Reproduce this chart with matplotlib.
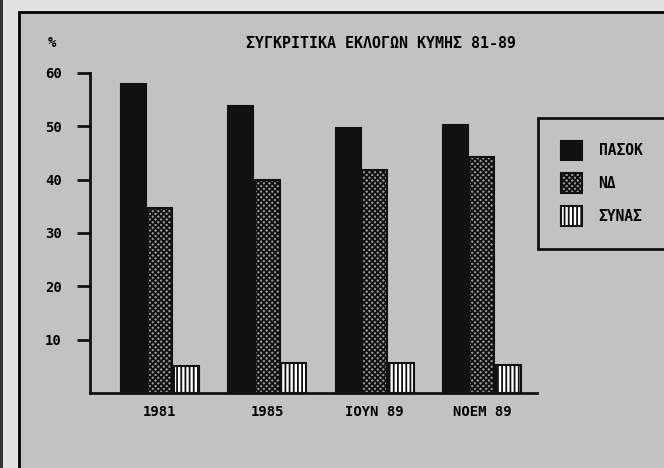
import matplotlib.pyplot as plt
from matplotlib.patches import Rectangle
import numpy as np

# election results, Kymi 1981-89 (%)
years = ["1981", "1985", "ΙΟΥΝ 89", "ΝΟΕΜ 89"]
parties = ["ΠΑΣΟΚ", "ΝΔ", "ΣΥΝΑΣ"]
pasok = [58.0, 53.8, 49.7, 50.3]
nd = [34.7, 40.0, 41.8, 44.3]
synas = [5.1, 5.6, 5.6, 5.3]

BG = "#c2c2c2"
MARGIN = "#e2e2e2"
FONT = "DejaVu Sans Mono"

plt.rcParams["hatch.linewidth"] = 1.3
plt.rcParams["font.family"] = [FONT]
plt.rcParams["font.weight"] = "bold"

fig = plt.figure(figsize=(6.64, 4.68), dpi=100)
fig.patch.set_facecolor(MARGIN)
W, H = 664, 468

# scanned screen frame
fig.add_artist(Rectangle((19 / W, -0.1), 1.2, 1 - 12 / H + 0.1, transform=fig.transFigure,
                         facecolor=BG, edgecolor="black", linewidth=2, zorder=-5))
fig.add_artist(Rectangle((0, 0), 3 / W, 1, transform=fig.transFigure,
                         facecolor="#333333", edgecolor="none", zorder=-5))

ax = fig.add_axes([90 / W, 1 - 393 / H, (537 - 90) / W, (393 - 73) / H])
ax.set_facecolor("none")

x = np.arange(len(years))
w = 0.233
step = 0.247
styles = [
    dict(facecolor="#111111", edgecolor="#111111", hatch=None),
    dict(facecolor="#9a9a9a", edgecolor="#111111", hatch="xxxxxx"),
    dict(facecolor="white", edgecolor="#111111", hatch="||||"),
]
handles = []
for i, (vals, st) in enumerate(zip([pasok, nd, synas], styles)):
    b = ax.bar(x + (i - 1) * step, vals, w, linewidth=1.5, label=parties[i], **st)
    handles.append(b)

ax.set_xlim(-0.652, 3.513)
ax.set_ylim(0, 60)
ax.set_yticks([10, 20, 30, 40, 50, 60])
ax.set_xticks(x)
ax.set_xticklabels(years)
for s in ["top", "right"]:
    ax.spines[s].set_visible(False)
for s in ["left", "bottom"]:
    ax.spines[s].set_linewidth(2)
    ax.spines[s].set_color("#111111")
ax.tick_params(axis="y", length=9.4, width=2, color="#111111", pad=11, labelsize=10)
ax.tick_params(axis="x", length=0, pad=9, labelsize=10)

fig.text(48 / W, 1 - 43 / H, "%", fontsize=10, va="center", ha="left")
fig.text(381 / W, 1 - 43 / H, "ΣΥΓΚΡΙΤΙΚΑ ΕΚΛΟΓΩΝ ΚΥΜΗΣ 81-89", fontsize=10.8,
         va="center", ha="center")

leg = ax.legend(handles=handles, loc="upper left", bbox_to_anchor=(538 / W, 1 - 118 / H),
                bbox_transform=fig.transFigure, fancybox=False, framealpha=1,
                facecolor=BG, edgecolor="#111111", fontsize=10.5, borderpad=1.55,
                borderaxespad=0, handlelength=1.5, handleheight=1.7, labelspacing=0.9,
                handletextpad=1.1)
leg.get_frame().set_linewidth(2)

fig.savefig("out.png", dpi=100, facecolor=fig.get_facecolor())
